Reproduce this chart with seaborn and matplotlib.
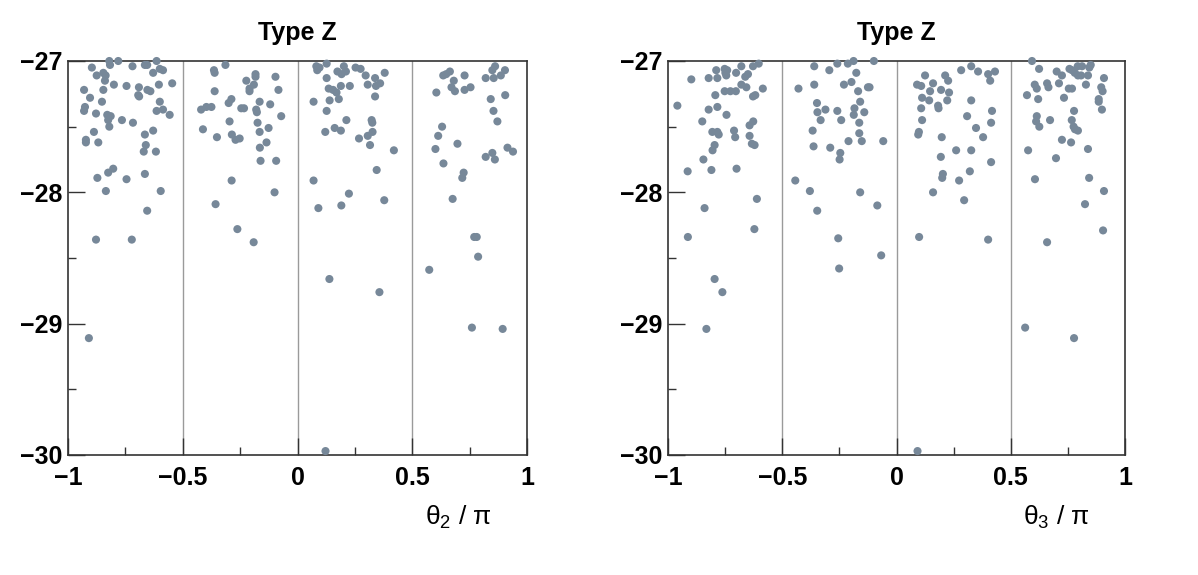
import matplotlib
matplotlib.use("Agg")
import matplotlib.pyplot as plt
import seaborn as sns
import pandas as pd
from matplotlib.ticker import MultipleLocator, FuncFormatter

# ---------------- data ----------------
theta2_x = [
    -0.820, -0.781, -0.817, -0.614, -0.665, -0.655, -0.719, -0.896, -0.600, -0.586,
    -0.846, -0.875, -0.836, -0.839, -0.629, -0.800, -0.745, -0.691, -0.604, -0.546,
    -0.930, -0.846, -0.654, -0.641, -0.694, -0.690, -0.904, -0.852, -0.600, -0.926,
    -0.930, -0.614, -0.586, -0.557, -0.878, -0.829, -0.814, -0.825, -0.765, -0.717,
    -0.820, -0.887, -0.629, -0.665, -0.922, -0.922, -0.868, -0.661, -0.670, -0.617,
    -0.803, -0.825, -0.872, -0.745, -0.665, -0.835, -0.596, -0.655, -0.878, -0.722,
    -0.909,
    -0.364, -0.361, -0.314, -0.183, -0.183, -0.223, -0.190, -0.096, -0.209, -0.209,
    -0.361, -0.083, -0.288, -0.300, -0.165, -0.119, -0.397, -0.375, -0.420, -0.245,
    -0.233, -0.180, -0.177, -0.071, -0.296, -0.174, -0.126, -0.412, -0.165, -0.286,
    -0.252, -0.270, -0.351, -0.135, -0.164, -0.161, -0.093, -0.287, -0.100, -0.357,
    -0.262, -0.191,
    0.082, 0.096, 0.086, 0.127, 0.202, 0.174, 0.192, 0.211, 0.253, 0.275,
    0.297, 0.338, 0.360, 0.342, 0.306, 0.380, 0.127, 0.189, 0.228, 0.136,
    0.155, 0.170, 0.180, 0.140, 0.070, 0.338, 0.127, 0.213, 0.323, 0.326,
    0.162, 0.189, 0.121, 0.327, 0.306, 0.268, 0.316, 0.420, 0.345, 0.070,
    0.224, 0.191, 0.091, 0.378, 0.139, 0.357, 0.122,
    0.635, 0.648, 0.664, 0.728, 0.681, 0.671, 0.686, 0.728, 0.754, 0.605,
    0.861, 0.849, 0.904, 0.886, 0.820, 0.855, 0.905, 0.842, 0.854, 0.871,
    0.630, 0.613, 0.601, 0.697, 0.820, 0.849, 0.860, 0.915, 0.939, 0.636,
    0.724, 0.718, 0.676, 0.770, 0.781, 0.787, 0.574, 0.760, 0.894,
]
theta2_y = [
    -27.00, -27.00, -27.03, -27.00, -27.03, -27.03, -27.04, -27.05, -27.06, -27.07,
    -27.09, -27.11, -27.11, -27.15, -27.09, -27.18, -27.19, -27.20, -27.18, -27.17,
    -27.22, -27.22, -27.22, -27.23, -27.26, -27.27, -27.28, -27.31, -27.31, -27.35,
    -27.38, -27.38, -27.37, -27.41, -27.40, -27.41, -27.42, -27.45, -27.45, -27.47,
    -27.50, -27.54, -27.53, -27.56, -27.60, -27.62, -27.62, -27.64, -27.69, -27.69,
    -27.82, -27.85, -27.89, -27.90, -27.86, -27.99, -27.99, -28.14, -28.36, -28.36,
    -29.11,
    -27.07, -27.09, -27.03, -27.10, -27.12, -27.15, -27.18, -27.12, -27.21, -27.23,
    -27.23, -27.22, -27.29, -27.32, -27.31, -27.33, -27.35, -27.35, -27.37, -27.36,
    -27.36, -27.37, -27.39, -27.42, -27.46, -27.47, -27.51, -27.52, -27.54, -27.56,
    -27.59, -27.60, -27.58, -27.62, -27.66, -27.76, -27.76, -27.91, -28.00, -28.09,
    -28.28, -28.38,
    -27.04, -27.05, -27.07, -27.02, -27.04, -27.08, -27.10, -27.08, -27.05, -27.06,
    -27.11, -27.13, -27.17, -27.19, -27.18, -27.09, -27.13, -27.19, -27.19, -27.21,
    -27.22, -27.24, -27.29, -27.30, -27.31, -27.27, -27.38, -27.45, -27.45, -27.47,
    -27.51, -27.53, -27.54, -27.54, -27.57, -27.59, -27.64, -27.68, -27.83, -27.91,
    -28.01, -28.10, -28.12, -28.06, -28.66, -28.76, -29.97,
    -27.11, -27.10, -27.08, -27.11, -27.15, -27.20, -27.23, -27.22, -27.20, -27.24,
    -27.04, -27.07, -27.07, -27.11, -27.13, -27.13, -27.26, -27.29, -27.38, -27.46,
    -27.50, -27.57, -27.67, -27.63, -27.73, -27.70, -27.75, -27.66, -27.69, -27.78,
    -27.85, -27.89, -28.05, -28.34, -28.34, -28.49, -28.59, -29.03, -29.04,
]

theta3_x = [
    -0.959, -0.898, -0.822, -0.784, -0.789, -0.752, -0.741, -0.749, -0.745, -0.702,
    -0.679, -0.628, -0.603, -0.662, -0.650, -0.679, -0.657, -0.752, -0.727, -0.703,
    -0.793, -0.585, -0.628, -0.618, -0.784, -0.822, -0.744, -0.850, -0.627, -0.643,
    -0.806, -0.784, -0.778, -0.711, -0.706, -0.643, -0.633, -0.621, -0.796, -0.805,
    -0.845, -0.810, -0.700, -0.914, -0.611, -0.840, -0.913, -0.622, -0.796, -0.762,
    -0.832,
    -0.360, -0.259, -0.213, -0.188, -0.099, -0.294, -0.176, -0.429, -0.360, -0.230,
    -0.197, -0.125, -0.118, -0.168, -0.159, -0.348, -0.311, -0.346, -0.259, -0.184,
    -0.187, -0.141, -0.332, -0.242, -0.163, -0.367, -0.163, -0.210, -0.152, -0.058,
    -0.363, -0.290, -0.246, -0.249, -0.443, -0.379, -0.159, -0.084, -0.347, -0.255,
    -0.067, -0.251,
    0.125, 0.213, 0.226, 0.283, 0.327, 0.357, 0.401, 0.431, 0.410, 0.090,
    0.108, 0.160, 0.147, 0.195, 0.230, 0.112, 0.143, 0.182, 0.184, 0.222,
    0.327, 0.108, 0.418, 0.112, 0.309, 0.414, 0.348, 0.098, 0.095, 0.198,
    0.379, 0.194, 0.261, 0.327, 0.414, 0.203, 0.200, 0.321, 0.274, 0.160,
    0.296, 0.099, 0.401, 0.092,
    0.593, 0.624, 0.701, 0.724, 0.757, 0.768, 0.780, 0.793, 0.812, 0.850,
    0.844, 0.794, 0.808, 0.838, 0.908, 0.605, 0.614, 0.659, 0.665, 0.711,
    0.829, 0.754, 0.768, 0.896, 0.902, 0.571, 0.620, 0.733, 0.885, 0.885,
    0.899, 0.777, 0.614, 0.611, 0.625, 0.672, 0.767, 0.775, 0.781, 0.794,
    0.724, 0.764, 0.576, 0.838, 0.698, 0.606, 0.843, 0.908, 0.825, 0.904,
    0.659, 0.563, 0.777,
]
theta3_y = [
    -27.34, -27.14, -27.13, -27.13, -27.07, -27.06, -27.07, -27.09, -27.11, -27.09,
    -27.04, -27.04, -27.02, -27.12, -27.10, -27.18, -27.20, -27.23, -27.23, -27.23,
    -27.26, -27.21, -27.27, -27.26, -27.35, -27.37, -27.41, -27.46, -27.46, -27.49,
    -27.54, -27.54, -27.56, -27.53, -27.58, -27.57, -27.63, -27.64, -27.64, -27.68,
    -27.75, -27.83, -27.82, -27.84, -28.05, -28.12, -28.34, -28.28, -28.66, -28.76,
    -29.04,
    -27.04, -27.02, -27.02, -27.00, -27.00, -27.07, -27.09, -27.21, -27.18, -27.18,
    -27.16, -27.20, -27.20, -27.23, -27.31, -27.32, -27.37, -27.39, -27.38, -27.36,
    -27.41, -27.39, -27.45, -27.45, -27.47, -27.53, -27.55, -27.61, -27.61, -27.61,
    -27.65, -27.66, -27.70, -27.75, -27.91, -27.99, -28.00, -28.10, -28.14, -28.35,
    -28.48, -28.58,
    -27.11, -27.11, -27.15, -27.07, -27.04, -27.08, -27.10, -27.08, -27.15, -27.18,
    -27.19, -27.17, -27.23, -27.22, -27.24, -27.28, -27.30, -27.34, -27.36, -27.30,
    -27.30, -27.36, -27.38, -27.45, -27.42, -27.47, -27.51, -27.54, -27.56, -27.58,
    -27.58, -27.73, -27.68, -27.68, -27.77, -27.86, -27.89, -27.84, -27.91, -28.00,
    -28.06, -28.34, -28.36, -29.97,
    -27.00, -27.06, -27.08, -27.11, -27.06, -27.07, -27.09, -27.04, -27.04, -27.03,
    -27.05, -27.11, -27.11, -27.11, -27.13, -27.18, -27.21, -27.17, -27.20, -27.17,
    -27.18, -27.21, -27.21, -27.20, -27.23, -27.26, -27.29, -27.28, -27.29, -27.31,
    -27.37, -27.38, -27.42, -27.46, -27.50, -27.45, -27.45, -27.50, -27.52, -27.53,
    -27.60, -27.62, -27.68, -27.67, -27.74, -27.90, -27.89, -27.99, -28.09, -28.29,
    -28.38, -29.03, -29.11,
]

panel_titles = ["Type Z", "Type Z"]
panel_xlabels = ["\u03b8$_{2}$ / \u03c0", "\u03b8$_{3}$ / \u03c0"]
divider_positions = [-0.5, 0.0, 0.5]

# ---------------- style ----------------
sns.set_theme(style="white")
plt.rcParams['font.family'] = ['Liberation Sans', 'DejaVu Sans']
plt.rcParams['font.weight'] = 'bold'
plt.rcParams['mathtext.default'] = 'regular'
plt.rcParams['text.color'] = 'black'
plt.rcParams['axes.labelcolor'] = 'black'
plt.rcParams['xtick.labelcolor'] = 'black'
plt.rcParams['ytick.labelcolor'] = 'black'

point_color = "#778899"
frame_color = "#333333"

fig = plt.figure(figsize=(11.98, 5.75), dpi=100)
ax_rects = [
    [68 / 1198, 1 - 455 / 575, 459 / 1198, 394 / 575],
    [668 / 1198, 1 - 455 / 575, 457 / 1198, 394 / 575],
]

fmt = FuncFormatter(lambda v, p: f"{v:g}".replace("-", "\u2212"))

panels = [(theta2_x, theta2_y), (theta3_x, theta3_y)]
for i, (xs, ys) in enumerate(panels):
    ax = fig.add_axes(ax_rects[i])
    df = pd.DataFrame({"theta": xs, "value": ys})
    for v in divider_positions:
        ax.axvline(v, color="#9a9a9a", lw=1.0, zorder=0)
    sns.scatterplot(data=df, x="theta", y="value", ax=ax, color=point_color,
                    s=34, edgecolor="none", linewidth=0, clip_on=False, zorder=3)
    ax.set_xlim(-1, 1)
    ax.set_ylim(-30, -27)
    ax.xaxis.set_major_locator(MultipleLocator(0.5))
    ax.xaxis.set_minor_locator(MultipleLocator(0.25))
    ax.yaxis.set_major_locator(MultipleLocator(1))
    ax.yaxis.set_minor_locator(MultipleLocator(0.5))
    ax.xaxis.set_major_formatter(fmt)
    ax.yaxis.set_major_formatter(fmt)
    ax.tick_params(which="both", direction="in", color=frame_color, width=1.0,
                   bottom=True, left=True, top=False, right=False)
    ax.tick_params(which="major", length=12, labelsize=18, labelcolor="black")
    ax.tick_params(which="minor", length=6)
    ax.tick_params(axis="x", which="major", pad=8)
    ax.tick_params(axis="y", which="major", pad=4)
    for sp in ax.spines.values():
        sp.set_color(frame_color)
        sp.set_linewidth(1.2)
    ax.set_title(panel_titles[i], fontsize=18, fontweight="bold", pad=15, color="black")
    ax.set_xlabel(panel_xlabels[i], fontsize=19, fontweight="normal", color="black")
    ax.xaxis.set_label_coords(0.85, -0.125)
    ax.set_ylabel("")

fig.savefig("out.png", dpi=100)
